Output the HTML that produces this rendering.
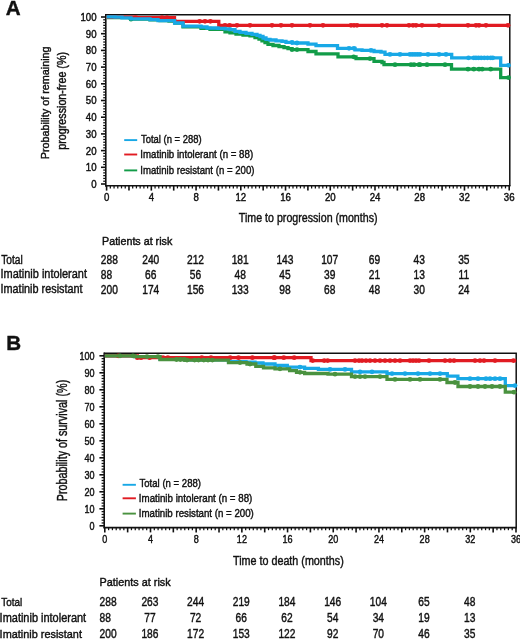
<!DOCTYPE html>
<html><head><meta charset="utf-8"><style>
html,body{margin:0;padding:0;background:#fff;}
body{width:520px;height:639px;overflow:hidden;}
svg{display:block;font-family:"Liberation Sans",sans-serif;filter:blur(0.3px);}
</style></head><body>
<svg width="520" height="639" viewBox="0 0 520 639" font-family="Liberation Sans, sans-serif">
<style>text{stroke:#111;stroke-width:0.42px;}</style>
<rect width="520" height="639" fill="#fff"/>
<line x1="101.00" y1="184.00" x2="105.80" y2="184.00" stroke="#111" stroke-width="1.6"/>
<line x1="103.20" y1="181.22" x2="105.80" y2="181.22" stroke="#111" stroke-width="1.25"/>
<line x1="103.20" y1="178.43" x2="105.80" y2="178.43" stroke="#111" stroke-width="1.25"/>
<line x1="103.20" y1="175.65" x2="105.80" y2="175.65" stroke="#111" stroke-width="1.25"/>
<line x1="103.20" y1="172.87" x2="105.80" y2="172.87" stroke="#111" stroke-width="1.25"/>
<line x1="103.20" y1="170.08" x2="105.80" y2="170.08" stroke="#111" stroke-width="1.25"/>
<line x1="101.00" y1="167.30" x2="105.80" y2="167.30" stroke="#111" stroke-width="1.6"/>
<line x1="103.20" y1="164.52" x2="105.80" y2="164.52" stroke="#111" stroke-width="1.25"/>
<line x1="103.20" y1="161.73" x2="105.80" y2="161.73" stroke="#111" stroke-width="1.25"/>
<line x1="103.20" y1="158.95" x2="105.80" y2="158.95" stroke="#111" stroke-width="1.25"/>
<line x1="103.20" y1="156.17" x2="105.80" y2="156.17" stroke="#111" stroke-width="1.25"/>
<line x1="103.20" y1="153.38" x2="105.80" y2="153.38" stroke="#111" stroke-width="1.25"/>
<line x1="101.00" y1="150.60" x2="105.80" y2="150.60" stroke="#111" stroke-width="1.6"/>
<line x1="103.20" y1="147.82" x2="105.80" y2="147.82" stroke="#111" stroke-width="1.25"/>
<line x1="103.20" y1="145.03" x2="105.80" y2="145.03" stroke="#111" stroke-width="1.25"/>
<line x1="103.20" y1="142.25" x2="105.80" y2="142.25" stroke="#111" stroke-width="1.25"/>
<line x1="103.20" y1="139.47" x2="105.80" y2="139.47" stroke="#111" stroke-width="1.25"/>
<line x1="103.20" y1="136.68" x2="105.80" y2="136.68" stroke="#111" stroke-width="1.25"/>
<line x1="101.00" y1="133.90" x2="105.80" y2="133.90" stroke="#111" stroke-width="1.6"/>
<line x1="103.20" y1="131.12" x2="105.80" y2="131.12" stroke="#111" stroke-width="1.25"/>
<line x1="103.20" y1="128.33" x2="105.80" y2="128.33" stroke="#111" stroke-width="1.25"/>
<line x1="103.20" y1="125.55" x2="105.80" y2="125.55" stroke="#111" stroke-width="1.25"/>
<line x1="103.20" y1="122.77" x2="105.80" y2="122.77" stroke="#111" stroke-width="1.25"/>
<line x1="103.20" y1="119.98" x2="105.80" y2="119.98" stroke="#111" stroke-width="1.25"/>
<line x1="101.00" y1="117.20" x2="105.80" y2="117.20" stroke="#111" stroke-width="1.6"/>
<line x1="103.20" y1="114.42" x2="105.80" y2="114.42" stroke="#111" stroke-width="1.25"/>
<line x1="103.20" y1="111.63" x2="105.80" y2="111.63" stroke="#111" stroke-width="1.25"/>
<line x1="103.20" y1="108.85" x2="105.80" y2="108.85" stroke="#111" stroke-width="1.25"/>
<line x1="103.20" y1="106.07" x2="105.80" y2="106.07" stroke="#111" stroke-width="1.25"/>
<line x1="103.20" y1="103.28" x2="105.80" y2="103.28" stroke="#111" stroke-width="1.25"/>
<line x1="101.00" y1="100.50" x2="105.80" y2="100.50" stroke="#111" stroke-width="1.6"/>
<line x1="103.20" y1="97.72" x2="105.80" y2="97.72" stroke="#111" stroke-width="1.25"/>
<line x1="103.20" y1="94.93" x2="105.80" y2="94.93" stroke="#111" stroke-width="1.25"/>
<line x1="103.20" y1="92.15" x2="105.80" y2="92.15" stroke="#111" stroke-width="1.25"/>
<line x1="103.20" y1="89.37" x2="105.80" y2="89.37" stroke="#111" stroke-width="1.25"/>
<line x1="103.20" y1="86.58" x2="105.80" y2="86.58" stroke="#111" stroke-width="1.25"/>
<line x1="101.00" y1="83.80" x2="105.80" y2="83.80" stroke="#111" stroke-width="1.6"/>
<line x1="103.20" y1="81.02" x2="105.80" y2="81.02" stroke="#111" stroke-width="1.25"/>
<line x1="103.20" y1="78.23" x2="105.80" y2="78.23" stroke="#111" stroke-width="1.25"/>
<line x1="103.20" y1="75.45" x2="105.80" y2="75.45" stroke="#111" stroke-width="1.25"/>
<line x1="103.20" y1="72.67" x2="105.80" y2="72.67" stroke="#111" stroke-width="1.25"/>
<line x1="103.20" y1="69.88" x2="105.80" y2="69.88" stroke="#111" stroke-width="1.25"/>
<line x1="101.00" y1="67.10" x2="105.80" y2="67.10" stroke="#111" stroke-width="1.6"/>
<line x1="103.20" y1="64.32" x2="105.80" y2="64.32" stroke="#111" stroke-width="1.25"/>
<line x1="103.20" y1="61.53" x2="105.80" y2="61.53" stroke="#111" stroke-width="1.25"/>
<line x1="103.20" y1="58.75" x2="105.80" y2="58.75" stroke="#111" stroke-width="1.25"/>
<line x1="103.20" y1="55.97" x2="105.80" y2="55.97" stroke="#111" stroke-width="1.25"/>
<line x1="103.20" y1="53.18" x2="105.80" y2="53.18" stroke="#111" stroke-width="1.25"/>
<line x1="101.00" y1="50.40" x2="105.80" y2="50.40" stroke="#111" stroke-width="1.6"/>
<line x1="103.20" y1="47.62" x2="105.80" y2="47.62" stroke="#111" stroke-width="1.25"/>
<line x1="103.20" y1="44.83" x2="105.80" y2="44.83" stroke="#111" stroke-width="1.25"/>
<line x1="103.20" y1="42.05" x2="105.80" y2="42.05" stroke="#111" stroke-width="1.25"/>
<line x1="103.20" y1="39.27" x2="105.80" y2="39.27" stroke="#111" stroke-width="1.25"/>
<line x1="103.20" y1="36.48" x2="105.80" y2="36.48" stroke="#111" stroke-width="1.25"/>
<line x1="101.00" y1="33.70" x2="105.80" y2="33.70" stroke="#111" stroke-width="1.6"/>
<line x1="103.20" y1="30.92" x2="105.80" y2="30.92" stroke="#111" stroke-width="1.25"/>
<line x1="103.20" y1="28.13" x2="105.80" y2="28.13" stroke="#111" stroke-width="1.25"/>
<line x1="103.20" y1="25.35" x2="105.80" y2="25.35" stroke="#111" stroke-width="1.25"/>
<line x1="103.20" y1="22.57" x2="105.80" y2="22.57" stroke="#111" stroke-width="1.25"/>
<line x1="103.20" y1="19.78" x2="105.80" y2="19.78" stroke="#111" stroke-width="1.25"/>
<line x1="101.00" y1="17.00" x2="105.80" y2="17.00" stroke="#111" stroke-width="1.6"/>
<line x1="106.60" y1="185.80" x2="106.60" y2="190.60" stroke="#111" stroke-width="1.6"/>
<line x1="110.33" y1="185.80" x2="110.33" y2="188.40" stroke="#111" stroke-width="1.25"/>
<line x1="114.06" y1="185.80" x2="114.06" y2="188.40" stroke="#111" stroke-width="1.25"/>
<line x1="117.78" y1="185.80" x2="117.78" y2="188.40" stroke="#111" stroke-width="1.25"/>
<line x1="121.51" y1="185.80" x2="121.51" y2="188.40" stroke="#111" stroke-width="1.25"/>
<line x1="125.24" y1="185.80" x2="125.24" y2="188.40" stroke="#111" stroke-width="1.25"/>
<line x1="128.97" y1="185.80" x2="128.97" y2="190.60" stroke="#111" stroke-width="1.6"/>
<line x1="132.69" y1="185.80" x2="132.69" y2="188.40" stroke="#111" stroke-width="1.25"/>
<line x1="136.42" y1="185.80" x2="136.42" y2="188.40" stroke="#111" stroke-width="1.25"/>
<line x1="140.15" y1="185.80" x2="140.15" y2="188.40" stroke="#111" stroke-width="1.25"/>
<line x1="143.88" y1="185.80" x2="143.88" y2="188.40" stroke="#111" stroke-width="1.25"/>
<line x1="147.61" y1="185.80" x2="147.61" y2="188.40" stroke="#111" stroke-width="1.25"/>
<line x1="151.33" y1="185.80" x2="151.33" y2="190.60" stroke="#111" stroke-width="1.6"/>
<line x1="155.06" y1="185.80" x2="155.06" y2="188.40" stroke="#111" stroke-width="1.25"/>
<line x1="158.79" y1="185.80" x2="158.79" y2="188.40" stroke="#111" stroke-width="1.25"/>
<line x1="162.52" y1="185.80" x2="162.52" y2="188.40" stroke="#111" stroke-width="1.25"/>
<line x1="166.24" y1="185.80" x2="166.24" y2="188.40" stroke="#111" stroke-width="1.25"/>
<line x1="169.97" y1="185.80" x2="169.97" y2="188.40" stroke="#111" stroke-width="1.25"/>
<line x1="173.70" y1="185.80" x2="173.70" y2="190.60" stroke="#111" stroke-width="1.6"/>
<line x1="177.43" y1="185.80" x2="177.43" y2="188.40" stroke="#111" stroke-width="1.25"/>
<line x1="181.16" y1="185.80" x2="181.16" y2="188.40" stroke="#111" stroke-width="1.25"/>
<line x1="184.88" y1="185.80" x2="184.88" y2="188.40" stroke="#111" stroke-width="1.25"/>
<line x1="188.61" y1="185.80" x2="188.61" y2="188.40" stroke="#111" stroke-width="1.25"/>
<line x1="192.34" y1="185.80" x2="192.34" y2="188.40" stroke="#111" stroke-width="1.25"/>
<line x1="196.07" y1="185.80" x2="196.07" y2="190.60" stroke="#111" stroke-width="1.6"/>
<line x1="199.79" y1="185.80" x2="199.79" y2="188.40" stroke="#111" stroke-width="1.25"/>
<line x1="203.52" y1="185.80" x2="203.52" y2="188.40" stroke="#111" stroke-width="1.25"/>
<line x1="207.25" y1="185.80" x2="207.25" y2="188.40" stroke="#111" stroke-width="1.25"/>
<line x1="210.98" y1="185.80" x2="210.98" y2="188.40" stroke="#111" stroke-width="1.25"/>
<line x1="214.71" y1="185.80" x2="214.71" y2="188.40" stroke="#111" stroke-width="1.25"/>
<line x1="218.43" y1="185.80" x2="218.43" y2="190.60" stroke="#111" stroke-width="1.6"/>
<line x1="222.16" y1="185.80" x2="222.16" y2="188.40" stroke="#111" stroke-width="1.25"/>
<line x1="225.89" y1="185.80" x2="225.89" y2="188.40" stroke="#111" stroke-width="1.25"/>
<line x1="229.62" y1="185.80" x2="229.62" y2="188.40" stroke="#111" stroke-width="1.25"/>
<line x1="233.34" y1="185.80" x2="233.34" y2="188.40" stroke="#111" stroke-width="1.25"/>
<line x1="237.07" y1="185.80" x2="237.07" y2="188.40" stroke="#111" stroke-width="1.25"/>
<line x1="240.80" y1="185.80" x2="240.80" y2="190.60" stroke="#111" stroke-width="1.6"/>
<line x1="244.53" y1="185.80" x2="244.53" y2="188.40" stroke="#111" stroke-width="1.25"/>
<line x1="248.26" y1="185.80" x2="248.26" y2="188.40" stroke="#111" stroke-width="1.25"/>
<line x1="251.98" y1="185.80" x2="251.98" y2="188.40" stroke="#111" stroke-width="1.25"/>
<line x1="255.71" y1="185.80" x2="255.71" y2="188.40" stroke="#111" stroke-width="1.25"/>
<line x1="259.44" y1="185.80" x2="259.44" y2="188.40" stroke="#111" stroke-width="1.25"/>
<line x1="263.17" y1="185.80" x2="263.17" y2="190.60" stroke="#111" stroke-width="1.6"/>
<line x1="266.89" y1="185.80" x2="266.89" y2="188.40" stroke="#111" stroke-width="1.25"/>
<line x1="270.62" y1="185.80" x2="270.62" y2="188.40" stroke="#111" stroke-width="1.25"/>
<line x1="274.35" y1="185.80" x2="274.35" y2="188.40" stroke="#111" stroke-width="1.25"/>
<line x1="278.08" y1="185.80" x2="278.08" y2="188.40" stroke="#111" stroke-width="1.25"/>
<line x1="281.81" y1="185.80" x2="281.81" y2="188.40" stroke="#111" stroke-width="1.25"/>
<line x1="285.53" y1="185.80" x2="285.53" y2="190.60" stroke="#111" stroke-width="1.6"/>
<line x1="289.26" y1="185.80" x2="289.26" y2="188.40" stroke="#111" stroke-width="1.25"/>
<line x1="292.99" y1="185.80" x2="292.99" y2="188.40" stroke="#111" stroke-width="1.25"/>
<line x1="296.72" y1="185.80" x2="296.72" y2="188.40" stroke="#111" stroke-width="1.25"/>
<line x1="300.44" y1="185.80" x2="300.44" y2="188.40" stroke="#111" stroke-width="1.25"/>
<line x1="304.17" y1="185.80" x2="304.17" y2="188.40" stroke="#111" stroke-width="1.25"/>
<line x1="307.90" y1="185.80" x2="307.90" y2="190.60" stroke="#111" stroke-width="1.6"/>
<line x1="311.63" y1="185.80" x2="311.63" y2="188.40" stroke="#111" stroke-width="1.25"/>
<line x1="315.36" y1="185.80" x2="315.36" y2="188.40" stroke="#111" stroke-width="1.25"/>
<line x1="319.08" y1="185.80" x2="319.08" y2="188.40" stroke="#111" stroke-width="1.25"/>
<line x1="322.81" y1="185.80" x2="322.81" y2="188.40" stroke="#111" stroke-width="1.25"/>
<line x1="326.54" y1="185.80" x2="326.54" y2="188.40" stroke="#111" stroke-width="1.25"/>
<line x1="330.27" y1="185.80" x2="330.27" y2="190.60" stroke="#111" stroke-width="1.6"/>
<line x1="333.99" y1="185.80" x2="333.99" y2="188.40" stroke="#111" stroke-width="1.25"/>
<line x1="337.72" y1="185.80" x2="337.72" y2="188.40" stroke="#111" stroke-width="1.25"/>
<line x1="341.45" y1="185.80" x2="341.45" y2="188.40" stroke="#111" stroke-width="1.25"/>
<line x1="345.18" y1="185.80" x2="345.18" y2="188.40" stroke="#111" stroke-width="1.25"/>
<line x1="348.91" y1="185.80" x2="348.91" y2="188.40" stroke="#111" stroke-width="1.25"/>
<line x1="352.63" y1="185.80" x2="352.63" y2="190.60" stroke="#111" stroke-width="1.6"/>
<line x1="356.36" y1="185.80" x2="356.36" y2="188.40" stroke="#111" stroke-width="1.25"/>
<line x1="360.09" y1="185.80" x2="360.09" y2="188.40" stroke="#111" stroke-width="1.25"/>
<line x1="363.82" y1="185.80" x2="363.82" y2="188.40" stroke="#111" stroke-width="1.25"/>
<line x1="367.54" y1="185.80" x2="367.54" y2="188.40" stroke="#111" stroke-width="1.25"/>
<line x1="371.27" y1="185.80" x2="371.27" y2="188.40" stroke="#111" stroke-width="1.25"/>
<line x1="375.00" y1="185.80" x2="375.00" y2="190.60" stroke="#111" stroke-width="1.6"/>
<line x1="378.73" y1="185.80" x2="378.73" y2="188.40" stroke="#111" stroke-width="1.25"/>
<line x1="382.46" y1="185.80" x2="382.46" y2="188.40" stroke="#111" stroke-width="1.25"/>
<line x1="386.18" y1="185.80" x2="386.18" y2="188.40" stroke="#111" stroke-width="1.25"/>
<line x1="389.91" y1="185.80" x2="389.91" y2="188.40" stroke="#111" stroke-width="1.25"/>
<line x1="393.64" y1="185.80" x2="393.64" y2="188.40" stroke="#111" stroke-width="1.25"/>
<line x1="397.37" y1="185.80" x2="397.37" y2="190.60" stroke="#111" stroke-width="1.6"/>
<line x1="401.09" y1="185.80" x2="401.09" y2="188.40" stroke="#111" stroke-width="1.25"/>
<line x1="404.82" y1="185.80" x2="404.82" y2="188.40" stroke="#111" stroke-width="1.25"/>
<line x1="408.55" y1="185.80" x2="408.55" y2="188.40" stroke="#111" stroke-width="1.25"/>
<line x1="412.28" y1="185.80" x2="412.28" y2="188.40" stroke="#111" stroke-width="1.25"/>
<line x1="416.01" y1="185.80" x2="416.01" y2="188.40" stroke="#111" stroke-width="1.25"/>
<line x1="419.73" y1="185.80" x2="419.73" y2="190.60" stroke="#111" stroke-width="1.6"/>
<line x1="423.46" y1="185.80" x2="423.46" y2="188.40" stroke="#111" stroke-width="1.25"/>
<line x1="427.19" y1="185.80" x2="427.19" y2="188.40" stroke="#111" stroke-width="1.25"/>
<line x1="430.92" y1="185.80" x2="430.92" y2="188.40" stroke="#111" stroke-width="1.25"/>
<line x1="434.64" y1="185.80" x2="434.64" y2="188.40" stroke="#111" stroke-width="1.25"/>
<line x1="438.37" y1="185.80" x2="438.37" y2="188.40" stroke="#111" stroke-width="1.25"/>
<line x1="442.10" y1="185.80" x2="442.10" y2="190.60" stroke="#111" stroke-width="1.6"/>
<line x1="445.83" y1="185.80" x2="445.83" y2="188.40" stroke="#111" stroke-width="1.25"/>
<line x1="449.56" y1="185.80" x2="449.56" y2="188.40" stroke="#111" stroke-width="1.25"/>
<line x1="453.28" y1="185.80" x2="453.28" y2="188.40" stroke="#111" stroke-width="1.25"/>
<line x1="457.01" y1="185.80" x2="457.01" y2="188.40" stroke="#111" stroke-width="1.25"/>
<line x1="460.74" y1="185.80" x2="460.74" y2="188.40" stroke="#111" stroke-width="1.25"/>
<line x1="464.47" y1="185.80" x2="464.47" y2="190.60" stroke="#111" stroke-width="1.6"/>
<line x1="468.19" y1="185.80" x2="468.19" y2="188.40" stroke="#111" stroke-width="1.25"/>
<line x1="471.92" y1="185.80" x2="471.92" y2="188.40" stroke="#111" stroke-width="1.25"/>
<line x1="475.65" y1="185.80" x2="475.65" y2="188.40" stroke="#111" stroke-width="1.25"/>
<line x1="479.38" y1="185.80" x2="479.38" y2="188.40" stroke="#111" stroke-width="1.25"/>
<line x1="483.11" y1="185.80" x2="483.11" y2="188.40" stroke="#111" stroke-width="1.25"/>
<line x1="486.83" y1="185.80" x2="486.83" y2="190.60" stroke="#111" stroke-width="1.6"/>
<line x1="490.56" y1="185.80" x2="490.56" y2="188.40" stroke="#111" stroke-width="1.25"/>
<line x1="494.29" y1="185.80" x2="494.29" y2="188.40" stroke="#111" stroke-width="1.25"/>
<line x1="498.02" y1="185.80" x2="498.02" y2="188.40" stroke="#111" stroke-width="1.25"/>
<line x1="501.74" y1="185.80" x2="501.74" y2="188.40" stroke="#111" stroke-width="1.25"/>
<line x1="505.47" y1="185.80" x2="505.47" y2="188.40" stroke="#111" stroke-width="1.25"/>
<line x1="509.20" y1="185.80" x2="509.20" y2="190.60" stroke="#111" stroke-width="1.6"/>
<line x1="105.80" y1="14.70" x2="510.50" y2="14.70" stroke="#111" stroke-width="1.5"/>
<line x1="509.80" y1="14.70" x2="509.80" y2="185.80" stroke="#111" stroke-width="1.5"/>
<line x1="105.80" y1="14.00" x2="105.80" y2="186.50" stroke="#111" stroke-width="1.6"/>
<line x1="105.10" y1="185.80" x2="510.50" y2="185.80" stroke="#111" stroke-width="1.6"/>
<text transform="translate(96.60,187.90) scale(0.9200,1)" font-size="10.50" text-anchor="end" fill="#111">0</text>
<text transform="translate(96.60,171.20) scale(0.9200,1)" font-size="10.50" text-anchor="end" fill="#111">10</text>
<text transform="translate(96.60,154.50) scale(0.9200,1)" font-size="10.50" text-anchor="end" fill="#111">20</text>
<text transform="translate(96.60,137.80) scale(0.9200,1)" font-size="10.50" text-anchor="end" fill="#111">30</text>
<text transform="translate(96.60,121.10) scale(0.9200,1)" font-size="10.50" text-anchor="end" fill="#111">40</text>
<text transform="translate(96.60,104.40) scale(0.9200,1)" font-size="10.50" text-anchor="end" fill="#111">50</text>
<text transform="translate(96.60,87.70) scale(0.9200,1)" font-size="10.50" text-anchor="end" fill="#111">60</text>
<text transform="translate(96.60,71.00) scale(0.9200,1)" font-size="10.50" text-anchor="end" fill="#111">70</text>
<text transform="translate(96.60,54.30) scale(0.9200,1)" font-size="10.50" text-anchor="end" fill="#111">80</text>
<text transform="translate(96.60,37.60) scale(0.9200,1)" font-size="10.50" text-anchor="end" fill="#111">90</text>
<text transform="translate(96.60,20.90) scale(0.9200,1)" font-size="10.50" text-anchor="end" fill="#111">100</text>
<text transform="translate(106.60,200.80) scale(0.9200,1)" font-size="10.50" text-anchor="middle" fill="#111">0</text>
<text transform="translate(151.33,200.80) scale(0.9200,1)" font-size="10.50" text-anchor="middle" fill="#111">4</text>
<text transform="translate(196.07,200.80) scale(0.9200,1)" font-size="10.50" text-anchor="middle" fill="#111">8</text>
<text transform="translate(240.80,200.80) scale(0.9200,1)" font-size="10.50" text-anchor="middle" fill="#111">12</text>
<text transform="translate(285.53,200.80) scale(0.9200,1)" font-size="10.50" text-anchor="middle" fill="#111">16</text>
<text transform="translate(330.27,200.80) scale(0.9200,1)" font-size="10.50" text-anchor="middle" fill="#111">20</text>
<text transform="translate(375.00,200.80) scale(0.9200,1)" font-size="10.50" text-anchor="middle" fill="#111">24</text>
<text transform="translate(419.73,200.80) scale(0.9200,1)" font-size="10.50" text-anchor="middle" fill="#111">28</text>
<text transform="translate(464.47,200.80) scale(0.9200,1)" font-size="10.50" text-anchor="middle" fill="#111">32</text>
<text transform="translate(509.20,200.80) scale(0.9200,1)" font-size="10.50" text-anchor="middle" fill="#111">36</text>
<path d="M106.60,17.60 H131.00 V19.20 H150.00 V19.80 H160.00 V20.50 H169.00 V21.20 H175.00 V23.20 H183.00 V26.90 H201.00 V28.30 H210.00 V29.40 H225.00 V31.80 H230.00 V32.80 H236.00 V34.00 H243.00 V35.00 H250.00 V35.90 H255.00 V37.50 H259.00 V39.20 H262.00 V40.80 H265.00 V42.50 H268.00 V44.30 H273.00 V45.50 H279.00 V46.60 H284.00 V47.60 H288.00 V48.60 H292.00 V49.60 H308.00 V51.50 H316.00 V53.90 H338.00 V56.80 H356.00 V58.60 H374.00 V61.30 H382.00 V62.50 H384.00 V64.70 H451.50 V69.20 H500.70 V77.60 H509.80" fill="none" stroke="#129c48" stroke-width="3.3" stroke-linejoin="miter" stroke-linecap="butt"/>
<circle cx="419.00" cy="64.70" r="2.4" fill="#129c48"/>
<circle cx="427.00" cy="64.70" r="2.4" fill="#129c48"/>
<circle cx="445.00" cy="64.70" r="2.4" fill="#129c48"/>
<circle cx="468.00" cy="69.20" r="2.4" fill="#129c48"/>
<circle cx="473.80" cy="69.20" r="2.4" fill="#129c48"/>
<circle cx="479.00" cy="69.20" r="2.4" fill="#129c48"/>
<circle cx="482.20" cy="69.20" r="2.4" fill="#129c48"/>
<circle cx="490.70" cy="69.20" r="2.4" fill="#129c48"/>
<circle cx="508.50" cy="77.60" r="2.4" fill="#129c48"/>
<circle cx="131.00" cy="19.20" r="2.4" fill="#129c48"/>
<circle cx="292.00" cy="49.60" r="2.4" fill="#129c48"/>
<circle cx="297.00" cy="49.60" r="2.4" fill="#129c48"/>
<circle cx="353.70" cy="56.80" r="2.4" fill="#129c48"/>
<circle cx="370.00" cy="58.60" r="2.4" fill="#129c48"/>
<circle cx="395.00" cy="64.70" r="2.4" fill="#129c48"/>
<circle cx="411.00" cy="64.70" r="2.4" fill="#129c48"/>
<circle cx="414.00" cy="64.70" r="2.4" fill="#129c48"/>
<circle cx="420.00" cy="64.70" r="2.4" fill="#129c48"/>
<path d="M106.60,17.20 H134.00 V17.60 H174.50 V21.30 H218.80 V25.30 H509.80" fill="none" stroke="#e11b22" stroke-width="3.3" stroke-linejoin="miter" stroke-linecap="butt"/>
<circle cx="136.00" cy="17.60" r="2.4" fill="#e11b22"/>
<circle cx="162.00" cy="17.60" r="2.4" fill="#e11b22"/>
<circle cx="167.00" cy="17.60" r="2.4" fill="#e11b22"/>
<circle cx="199.60" cy="21.30" r="2.4" fill="#e11b22"/>
<circle cx="205.00" cy="21.30" r="2.4" fill="#e11b22"/>
<circle cx="210.40" cy="21.30" r="2.4" fill="#e11b22"/>
<circle cx="225.00" cy="25.30" r="2.4" fill="#e11b22"/>
<circle cx="229.60" cy="25.30" r="2.4" fill="#e11b22"/>
<circle cx="237.00" cy="25.30" r="2.4" fill="#e11b22"/>
<circle cx="250.00" cy="25.30" r="2.4" fill="#e11b22"/>
<circle cx="272.00" cy="25.30" r="2.4" fill="#e11b22"/>
<circle cx="281.00" cy="25.30" r="2.4" fill="#e11b22"/>
<circle cx="292.00" cy="25.30" r="2.4" fill="#e11b22"/>
<circle cx="310.00" cy="25.30" r="2.4" fill="#e11b22"/>
<circle cx="323.00" cy="25.30" r="2.4" fill="#e11b22"/>
<circle cx="351.00" cy="25.30" r="2.4" fill="#e11b22"/>
<circle cx="354.00" cy="25.30" r="2.4" fill="#e11b22"/>
<circle cx="357.00" cy="25.30" r="2.4" fill="#e11b22"/>
<circle cx="382.00" cy="25.30" r="2.4" fill="#e11b22"/>
<circle cx="387.00" cy="25.30" r="2.4" fill="#e11b22"/>
<circle cx="409.00" cy="25.30" r="2.4" fill="#e11b22"/>
<circle cx="413.00" cy="25.30" r="2.4" fill="#e11b22"/>
<circle cx="416.00" cy="25.30" r="2.4" fill="#e11b22"/>
<circle cx="422.00" cy="25.30" r="2.4" fill="#e11b22"/>
<circle cx="439.00" cy="25.30" r="2.4" fill="#e11b22"/>
<circle cx="468.00" cy="25.30" r="2.4" fill="#e11b22"/>
<circle cx="476.00" cy="25.30" r="2.4" fill="#e11b22"/>
<circle cx="479.00" cy="25.30" r="2.4" fill="#e11b22"/>
<circle cx="486.00" cy="25.30" r="2.4" fill="#e11b22"/>
<circle cx="508.00" cy="25.30" r="2.4" fill="#e11b22"/>
<path d="M106.60,16.80 H115.00 V17.20 H122.00 V17.80 H131.00 V18.80 H150.00 V19.60 H158.00 V20.60 H174.60 V23.00 H183.00 V26.20 H201.00 V27.00 H207.00 V28.00 H218.00 V28.40 H225.00 V28.80 H230.00 V29.60 H235.00 V31.30 H240.00 V32.30 H246.00 V33.30 H252.00 V34.30 H257.00 V35.30 H260.00 V36.50 H263.00 V38.00 H266.00 V39.30 H270.00 V40.00 H276.00 V40.80 H282.00 V41.40 H286.00 V42.30 H292.50 V43.00 H308.00 V44.20 H316.00 V45.70 H337.50 V48.30 H355.00 V49.80 H362.00 V50.40 H374.00 V51.50 H381.00 V52.20 H385.00 V54.40 H451.70 V57.80 H500.70 V65.30 H509.80" fill="none" stroke="#18a8e6" stroke-width="3.3" stroke-linejoin="miter" stroke-linecap="butt"/>
<circle cx="410.00" cy="54.40" r="2.4" fill="#18a8e6"/>
<circle cx="412.50" cy="54.40" r="2.4" fill="#18a8e6"/>
<circle cx="415.00" cy="54.40" r="2.4" fill="#18a8e6"/>
<circle cx="417.50" cy="54.40" r="2.4" fill="#18a8e6"/>
<circle cx="420.00" cy="54.40" r="2.4" fill="#18a8e6"/>
<circle cx="428.00" cy="54.40" r="2.4" fill="#18a8e6"/>
<circle cx="439.00" cy="54.40" r="2.4" fill="#18a8e6"/>
<circle cx="446.00" cy="54.40" r="2.4" fill="#18a8e6"/>
<circle cx="468.50" cy="57.80" r="2.4" fill="#18a8e6"/>
<circle cx="473.80" cy="57.80" r="2.4" fill="#18a8e6"/>
<circle cx="476.00" cy="57.80" r="2.4" fill="#18a8e6"/>
<circle cx="478.50" cy="57.80" r="2.4" fill="#18a8e6"/>
<circle cx="481.20" cy="57.80" r="2.4" fill="#18a8e6"/>
<circle cx="484.30" cy="57.80" r="2.4" fill="#18a8e6"/>
<circle cx="487.50" cy="57.80" r="2.4" fill="#18a8e6"/>
<circle cx="490.70" cy="57.80" r="2.4" fill="#18a8e6"/>
<circle cx="492.80" cy="57.80" r="2.4" fill="#18a8e6"/>
<circle cx="508.50" cy="65.30" r="2.4" fill="#18a8e6"/>
<circle cx="292.00" cy="42.30" r="2.4" fill="#18a8e6"/>
<circle cx="297.00" cy="43.00" r="2.4" fill="#18a8e6"/>
<circle cx="349.00" cy="48.30" r="2.4" fill="#18a8e6"/>
<circle cx="354.00" cy="48.30" r="2.4" fill="#18a8e6"/>
<circle cx="371.00" cy="50.40" r="2.4" fill="#18a8e6"/>
<circle cx="390.00" cy="54.40" r="2.4" fill="#18a8e6"/>
<circle cx="400.00" cy="54.40" r="2.4" fill="#18a8e6"/>
<text x="5.8" y="14.7" font-size="20.6" font-weight="bold" fill="#111">A</text>
<text transform="translate(49.20,159.26) rotate(-90) scale(0.9167,1)" font-size="11.79" fill="#111">Probability of remaining</text>
<text transform="translate(65.90,149.70) rotate(-90) scale(0.8890,1)" font-size="12.07" fill="#111">progression-free (%)</text>
<line x1="124.20" y1="140.10" x2="137.20" y2="140.10" stroke="#18a8e6" stroke-width="1.9"/>
<line x1="124.20" y1="154.50" x2="137.20" y2="154.50" stroke="#e11b22" stroke-width="1.9"/>
<line x1="124.20" y1="170.40" x2="137.20" y2="170.40" stroke="#129c48" stroke-width="1.9"/>
<text transform="translate(141.01,143.20) scale(0.8726,1)" font-size="10.83" font-weight="normal" fill="#111">Total (n = 288)</text>
<text transform="translate(140.33,158.20) scale(0.8954,1)" font-size="10.83" font-weight="normal" fill="#111">Imatinib intolerant (n = 88)</text>
<text transform="translate(140.33,174.30) scale(0.8353,1)" font-size="11.52" font-weight="normal" fill="#111">Imatinib resistant (n = 200)</text>
<text transform="translate(238.84,222.40) scale(0.8350,1)" font-size="12.76" font-weight="normal" fill="#111">Time to progression (months)</text>
<text transform="translate(102.04,245.40) scale(1.0033,1)" font-size="10.69" font-weight="normal" fill="#111">Patients at risk</text>
<text transform="translate(1.20,263.60) scale(0.8100,1)" font-size="12.62" font-weight="normal" fill="#111">Total</text>
<text transform="translate(0.51,278.30) scale(0.8691,1)" font-size="12.62" font-weight="normal" fill="#111">Imatinib intolerant</text>
<text transform="translate(0.52,293.10) scale(0.8614,1)" font-size="12.62" font-weight="normal" fill="#111">Imatinib resistant</text>
<text transform="translate(100.80,264.20) scale(0.8300,1)" font-size="12.30" text-anchor="start" fill="#111">288</text>
<text transform="translate(150.73,264.20) scale(0.8300,1)" font-size="12.30" text-anchor="middle" fill="#111">240</text>
<text transform="translate(195.47,264.20) scale(0.8300,1)" font-size="12.30" text-anchor="middle" fill="#111">212</text>
<text transform="translate(240.20,264.20) scale(0.8300,1)" font-size="12.30" text-anchor="middle" fill="#111">181</text>
<text transform="translate(284.93,264.20) scale(0.8300,1)" font-size="12.30" text-anchor="middle" fill="#111">143</text>
<text transform="translate(329.67,264.20) scale(0.8300,1)" font-size="12.30" text-anchor="middle" fill="#111">107</text>
<text transform="translate(374.40,264.20) scale(0.8300,1)" font-size="12.30" text-anchor="middle" fill="#111">69</text>
<text transform="translate(419.13,264.20) scale(0.8300,1)" font-size="12.30" text-anchor="middle" fill="#111">43</text>
<text transform="translate(463.87,264.20) scale(0.8300,1)" font-size="12.30" text-anchor="middle" fill="#111">35</text>
<text transform="translate(100.80,278.80) scale(0.8300,1)" font-size="12.30" text-anchor="start" fill="#111">88</text>
<text transform="translate(150.73,278.80) scale(0.8300,1)" font-size="12.30" text-anchor="middle" fill="#111">66</text>
<text transform="translate(195.47,278.80) scale(0.8300,1)" font-size="12.30" text-anchor="middle" fill="#111">56</text>
<text transform="translate(240.20,278.80) scale(0.8300,1)" font-size="12.30" text-anchor="middle" fill="#111">48</text>
<text transform="translate(284.93,278.80) scale(0.8300,1)" font-size="12.30" text-anchor="middle" fill="#111">45</text>
<text transform="translate(329.67,278.80) scale(0.8300,1)" font-size="12.30" text-anchor="middle" fill="#111">39</text>
<text transform="translate(374.40,278.80) scale(0.8300,1)" font-size="12.30" text-anchor="middle" fill="#111">21</text>
<text transform="translate(419.13,278.80) scale(0.8300,1)" font-size="12.30" text-anchor="middle" fill="#111">13</text>
<text transform="translate(463.87,278.80) scale(0.8300,1)" font-size="12.30" text-anchor="middle" fill="#111">11</text>
<text transform="translate(100.80,293.60) scale(0.8300,1)" font-size="12.30" text-anchor="start" fill="#111">200</text>
<text transform="translate(150.73,293.60) scale(0.8300,1)" font-size="12.30" text-anchor="middle" fill="#111">174</text>
<text transform="translate(195.47,293.60) scale(0.8300,1)" font-size="12.30" text-anchor="middle" fill="#111">156</text>
<text transform="translate(240.20,293.60) scale(0.8300,1)" font-size="12.30" text-anchor="middle" fill="#111">133</text>
<text transform="translate(284.93,293.60) scale(0.8300,1)" font-size="12.30" text-anchor="middle" fill="#111">98</text>
<text transform="translate(329.67,293.60) scale(0.8300,1)" font-size="12.30" text-anchor="middle" fill="#111">68</text>
<text transform="translate(374.40,293.60) scale(0.8300,1)" font-size="12.30" text-anchor="middle" fill="#111">48</text>
<text transform="translate(419.13,293.60) scale(0.8300,1)" font-size="12.30" text-anchor="middle" fill="#111">30</text>
<text transform="translate(463.87,293.60) scale(0.8300,1)" font-size="12.30" text-anchor="middle" fill="#111">24</text>
<line x1="99.40" y1="525.80" x2="104.20" y2="525.80" stroke="#111" stroke-width="1.6"/>
<line x1="101.60" y1="522.97" x2="104.20" y2="522.97" stroke="#111" stroke-width="1.25"/>
<line x1="101.60" y1="520.13" x2="104.20" y2="520.13" stroke="#111" stroke-width="1.25"/>
<line x1="101.60" y1="517.30" x2="104.20" y2="517.30" stroke="#111" stroke-width="1.25"/>
<line x1="101.60" y1="514.47" x2="104.20" y2="514.47" stroke="#111" stroke-width="1.25"/>
<line x1="101.60" y1="511.63" x2="104.20" y2="511.63" stroke="#111" stroke-width="1.25"/>
<line x1="99.40" y1="508.80" x2="104.20" y2="508.80" stroke="#111" stroke-width="1.6"/>
<line x1="101.60" y1="505.97" x2="104.20" y2="505.97" stroke="#111" stroke-width="1.25"/>
<line x1="101.60" y1="503.13" x2="104.20" y2="503.13" stroke="#111" stroke-width="1.25"/>
<line x1="101.60" y1="500.30" x2="104.20" y2="500.30" stroke="#111" stroke-width="1.25"/>
<line x1="101.60" y1="497.47" x2="104.20" y2="497.47" stroke="#111" stroke-width="1.25"/>
<line x1="101.60" y1="494.63" x2="104.20" y2="494.63" stroke="#111" stroke-width="1.25"/>
<line x1="99.40" y1="491.80" x2="104.20" y2="491.80" stroke="#111" stroke-width="1.6"/>
<line x1="101.60" y1="488.97" x2="104.20" y2="488.97" stroke="#111" stroke-width="1.25"/>
<line x1="101.60" y1="486.13" x2="104.20" y2="486.13" stroke="#111" stroke-width="1.25"/>
<line x1="101.60" y1="483.30" x2="104.20" y2="483.30" stroke="#111" stroke-width="1.25"/>
<line x1="101.60" y1="480.47" x2="104.20" y2="480.47" stroke="#111" stroke-width="1.25"/>
<line x1="101.60" y1="477.63" x2="104.20" y2="477.63" stroke="#111" stroke-width="1.25"/>
<line x1="99.40" y1="474.80" x2="104.20" y2="474.80" stroke="#111" stroke-width="1.6"/>
<line x1="101.60" y1="471.97" x2="104.20" y2="471.97" stroke="#111" stroke-width="1.25"/>
<line x1="101.60" y1="469.13" x2="104.20" y2="469.13" stroke="#111" stroke-width="1.25"/>
<line x1="101.60" y1="466.30" x2="104.20" y2="466.30" stroke="#111" stroke-width="1.25"/>
<line x1="101.60" y1="463.47" x2="104.20" y2="463.47" stroke="#111" stroke-width="1.25"/>
<line x1="101.60" y1="460.63" x2="104.20" y2="460.63" stroke="#111" stroke-width="1.25"/>
<line x1="99.40" y1="457.80" x2="104.20" y2="457.80" stroke="#111" stroke-width="1.6"/>
<line x1="101.60" y1="454.97" x2="104.20" y2="454.97" stroke="#111" stroke-width="1.25"/>
<line x1="101.60" y1="452.13" x2="104.20" y2="452.13" stroke="#111" stroke-width="1.25"/>
<line x1="101.60" y1="449.30" x2="104.20" y2="449.30" stroke="#111" stroke-width="1.25"/>
<line x1="101.60" y1="446.47" x2="104.20" y2="446.47" stroke="#111" stroke-width="1.25"/>
<line x1="101.60" y1="443.63" x2="104.20" y2="443.63" stroke="#111" stroke-width="1.25"/>
<line x1="99.40" y1="440.80" x2="104.20" y2="440.80" stroke="#111" stroke-width="1.6"/>
<line x1="101.60" y1="437.97" x2="104.20" y2="437.97" stroke="#111" stroke-width="1.25"/>
<line x1="101.60" y1="435.13" x2="104.20" y2="435.13" stroke="#111" stroke-width="1.25"/>
<line x1="101.60" y1="432.30" x2="104.20" y2="432.30" stroke="#111" stroke-width="1.25"/>
<line x1="101.60" y1="429.47" x2="104.20" y2="429.47" stroke="#111" stroke-width="1.25"/>
<line x1="101.60" y1="426.63" x2="104.20" y2="426.63" stroke="#111" stroke-width="1.25"/>
<line x1="99.40" y1="423.80" x2="104.20" y2="423.80" stroke="#111" stroke-width="1.6"/>
<line x1="101.60" y1="420.97" x2="104.20" y2="420.97" stroke="#111" stroke-width="1.25"/>
<line x1="101.60" y1="418.13" x2="104.20" y2="418.13" stroke="#111" stroke-width="1.25"/>
<line x1="101.60" y1="415.30" x2="104.20" y2="415.30" stroke="#111" stroke-width="1.25"/>
<line x1="101.60" y1="412.47" x2="104.20" y2="412.47" stroke="#111" stroke-width="1.25"/>
<line x1="101.60" y1="409.63" x2="104.20" y2="409.63" stroke="#111" stroke-width="1.25"/>
<line x1="99.40" y1="406.80" x2="104.20" y2="406.80" stroke="#111" stroke-width="1.6"/>
<line x1="101.60" y1="403.97" x2="104.20" y2="403.97" stroke="#111" stroke-width="1.25"/>
<line x1="101.60" y1="401.13" x2="104.20" y2="401.13" stroke="#111" stroke-width="1.25"/>
<line x1="101.60" y1="398.30" x2="104.20" y2="398.30" stroke="#111" stroke-width="1.25"/>
<line x1="101.60" y1="395.47" x2="104.20" y2="395.47" stroke="#111" stroke-width="1.25"/>
<line x1="101.60" y1="392.63" x2="104.20" y2="392.63" stroke="#111" stroke-width="1.25"/>
<line x1="99.40" y1="389.80" x2="104.20" y2="389.80" stroke="#111" stroke-width="1.6"/>
<line x1="101.60" y1="386.97" x2="104.20" y2="386.97" stroke="#111" stroke-width="1.25"/>
<line x1="101.60" y1="384.13" x2="104.20" y2="384.13" stroke="#111" stroke-width="1.25"/>
<line x1="101.60" y1="381.30" x2="104.20" y2="381.30" stroke="#111" stroke-width="1.25"/>
<line x1="101.60" y1="378.47" x2="104.20" y2="378.47" stroke="#111" stroke-width="1.25"/>
<line x1="101.60" y1="375.63" x2="104.20" y2="375.63" stroke="#111" stroke-width="1.25"/>
<line x1="99.40" y1="372.80" x2="104.20" y2="372.80" stroke="#111" stroke-width="1.6"/>
<line x1="101.60" y1="369.97" x2="104.20" y2="369.97" stroke="#111" stroke-width="1.25"/>
<line x1="101.60" y1="367.13" x2="104.20" y2="367.13" stroke="#111" stroke-width="1.25"/>
<line x1="101.60" y1="364.30" x2="104.20" y2="364.30" stroke="#111" stroke-width="1.25"/>
<line x1="101.60" y1="361.47" x2="104.20" y2="361.47" stroke="#111" stroke-width="1.25"/>
<line x1="101.60" y1="358.63" x2="104.20" y2="358.63" stroke="#111" stroke-width="1.25"/>
<line x1="99.40" y1="355.80" x2="104.20" y2="355.80" stroke="#111" stroke-width="1.6"/>
<line x1="104.80" y1="527.60" x2="104.80" y2="532.40" stroke="#111" stroke-width="1.6"/>
<line x1="108.61" y1="527.60" x2="108.61" y2="530.20" stroke="#111" stroke-width="1.25"/>
<line x1="112.41" y1="527.60" x2="112.41" y2="530.20" stroke="#111" stroke-width="1.25"/>
<line x1="116.22" y1="527.60" x2="116.22" y2="530.20" stroke="#111" stroke-width="1.25"/>
<line x1="120.03" y1="527.60" x2="120.03" y2="530.20" stroke="#111" stroke-width="1.25"/>
<line x1="123.84" y1="527.60" x2="123.84" y2="530.20" stroke="#111" stroke-width="1.25"/>
<line x1="127.64" y1="527.60" x2="127.64" y2="532.40" stroke="#111" stroke-width="1.6"/>
<line x1="131.45" y1="527.60" x2="131.45" y2="530.20" stroke="#111" stroke-width="1.25"/>
<line x1="135.26" y1="527.60" x2="135.26" y2="530.20" stroke="#111" stroke-width="1.25"/>
<line x1="139.07" y1="527.60" x2="139.07" y2="530.20" stroke="#111" stroke-width="1.25"/>
<line x1="142.87" y1="527.60" x2="142.87" y2="530.20" stroke="#111" stroke-width="1.25"/>
<line x1="146.68" y1="527.60" x2="146.68" y2="530.20" stroke="#111" stroke-width="1.25"/>
<line x1="150.49" y1="527.60" x2="150.49" y2="532.40" stroke="#111" stroke-width="1.6"/>
<line x1="154.30" y1="527.60" x2="154.30" y2="530.20" stroke="#111" stroke-width="1.25"/>
<line x1="158.10" y1="527.60" x2="158.10" y2="530.20" stroke="#111" stroke-width="1.25"/>
<line x1="161.91" y1="527.60" x2="161.91" y2="530.20" stroke="#111" stroke-width="1.25"/>
<line x1="165.72" y1="527.60" x2="165.72" y2="530.20" stroke="#111" stroke-width="1.25"/>
<line x1="169.53" y1="527.60" x2="169.53" y2="530.20" stroke="#111" stroke-width="1.25"/>
<line x1="173.33" y1="527.60" x2="173.33" y2="532.40" stroke="#111" stroke-width="1.6"/>
<line x1="177.14" y1="527.60" x2="177.14" y2="530.20" stroke="#111" stroke-width="1.25"/>
<line x1="180.95" y1="527.60" x2="180.95" y2="530.20" stroke="#111" stroke-width="1.25"/>
<line x1="184.76" y1="527.60" x2="184.76" y2="530.20" stroke="#111" stroke-width="1.25"/>
<line x1="188.56" y1="527.60" x2="188.56" y2="530.20" stroke="#111" stroke-width="1.25"/>
<line x1="192.37" y1="527.60" x2="192.37" y2="530.20" stroke="#111" stroke-width="1.25"/>
<line x1="196.18" y1="527.60" x2="196.18" y2="532.40" stroke="#111" stroke-width="1.6"/>
<line x1="199.99" y1="527.60" x2="199.99" y2="530.20" stroke="#111" stroke-width="1.25"/>
<line x1="203.79" y1="527.60" x2="203.79" y2="530.20" stroke="#111" stroke-width="1.25"/>
<line x1="207.60" y1="527.60" x2="207.60" y2="530.20" stroke="#111" stroke-width="1.25"/>
<line x1="211.41" y1="527.60" x2="211.41" y2="530.20" stroke="#111" stroke-width="1.25"/>
<line x1="215.21" y1="527.60" x2="215.21" y2="530.20" stroke="#111" stroke-width="1.25"/>
<line x1="219.02" y1="527.60" x2="219.02" y2="532.40" stroke="#111" stroke-width="1.6"/>
<line x1="222.83" y1="527.60" x2="222.83" y2="530.20" stroke="#111" stroke-width="1.25"/>
<line x1="226.64" y1="527.60" x2="226.64" y2="530.20" stroke="#111" stroke-width="1.25"/>
<line x1="230.44" y1="527.60" x2="230.44" y2="530.20" stroke="#111" stroke-width="1.25"/>
<line x1="234.25" y1="527.60" x2="234.25" y2="530.20" stroke="#111" stroke-width="1.25"/>
<line x1="238.06" y1="527.60" x2="238.06" y2="530.20" stroke="#111" stroke-width="1.25"/>
<line x1="241.87" y1="527.60" x2="241.87" y2="532.40" stroke="#111" stroke-width="1.6"/>
<line x1="245.67" y1="527.60" x2="245.67" y2="530.20" stroke="#111" stroke-width="1.25"/>
<line x1="249.48" y1="527.60" x2="249.48" y2="530.20" stroke="#111" stroke-width="1.25"/>
<line x1="253.29" y1="527.60" x2="253.29" y2="530.20" stroke="#111" stroke-width="1.25"/>
<line x1="257.10" y1="527.60" x2="257.10" y2="530.20" stroke="#111" stroke-width="1.25"/>
<line x1="260.90" y1="527.60" x2="260.90" y2="530.20" stroke="#111" stroke-width="1.25"/>
<line x1="264.71" y1="527.60" x2="264.71" y2="532.40" stroke="#111" stroke-width="1.6"/>
<line x1="268.52" y1="527.60" x2="268.52" y2="530.20" stroke="#111" stroke-width="1.25"/>
<line x1="272.33" y1="527.60" x2="272.33" y2="530.20" stroke="#111" stroke-width="1.25"/>
<line x1="276.13" y1="527.60" x2="276.13" y2="530.20" stroke="#111" stroke-width="1.25"/>
<line x1="279.94" y1="527.60" x2="279.94" y2="530.20" stroke="#111" stroke-width="1.25"/>
<line x1="283.75" y1="527.60" x2="283.75" y2="530.20" stroke="#111" stroke-width="1.25"/>
<line x1="287.56" y1="527.60" x2="287.56" y2="532.40" stroke="#111" stroke-width="1.6"/>
<line x1="291.36" y1="527.60" x2="291.36" y2="530.20" stroke="#111" stroke-width="1.25"/>
<line x1="295.17" y1="527.60" x2="295.17" y2="530.20" stroke="#111" stroke-width="1.25"/>
<line x1="298.98" y1="527.60" x2="298.98" y2="530.20" stroke="#111" stroke-width="1.25"/>
<line x1="302.79" y1="527.60" x2="302.79" y2="530.20" stroke="#111" stroke-width="1.25"/>
<line x1="306.59" y1="527.60" x2="306.59" y2="530.20" stroke="#111" stroke-width="1.25"/>
<line x1="310.40" y1="527.60" x2="310.40" y2="532.40" stroke="#111" stroke-width="1.6"/>
<line x1="314.21" y1="527.60" x2="314.21" y2="530.20" stroke="#111" stroke-width="1.25"/>
<line x1="318.01" y1="527.60" x2="318.01" y2="530.20" stroke="#111" stroke-width="1.25"/>
<line x1="321.82" y1="527.60" x2="321.82" y2="530.20" stroke="#111" stroke-width="1.25"/>
<line x1="325.63" y1="527.60" x2="325.63" y2="530.20" stroke="#111" stroke-width="1.25"/>
<line x1="329.44" y1="527.60" x2="329.44" y2="530.20" stroke="#111" stroke-width="1.25"/>
<line x1="333.24" y1="527.60" x2="333.24" y2="532.40" stroke="#111" stroke-width="1.6"/>
<line x1="337.05" y1="527.60" x2="337.05" y2="530.20" stroke="#111" stroke-width="1.25"/>
<line x1="340.86" y1="527.60" x2="340.86" y2="530.20" stroke="#111" stroke-width="1.25"/>
<line x1="344.67" y1="527.60" x2="344.67" y2="530.20" stroke="#111" stroke-width="1.25"/>
<line x1="348.47" y1="527.60" x2="348.47" y2="530.20" stroke="#111" stroke-width="1.25"/>
<line x1="352.28" y1="527.60" x2="352.28" y2="530.20" stroke="#111" stroke-width="1.25"/>
<line x1="356.09" y1="527.60" x2="356.09" y2="532.40" stroke="#111" stroke-width="1.6"/>
<line x1="359.90" y1="527.60" x2="359.90" y2="530.20" stroke="#111" stroke-width="1.25"/>
<line x1="363.70" y1="527.60" x2="363.70" y2="530.20" stroke="#111" stroke-width="1.25"/>
<line x1="367.51" y1="527.60" x2="367.51" y2="530.20" stroke="#111" stroke-width="1.25"/>
<line x1="371.32" y1="527.60" x2="371.32" y2="530.20" stroke="#111" stroke-width="1.25"/>
<line x1="375.13" y1="527.60" x2="375.13" y2="530.20" stroke="#111" stroke-width="1.25"/>
<line x1="378.93" y1="527.60" x2="378.93" y2="532.40" stroke="#111" stroke-width="1.6"/>
<line x1="382.74" y1="527.60" x2="382.74" y2="530.20" stroke="#111" stroke-width="1.25"/>
<line x1="386.55" y1="527.60" x2="386.55" y2="530.20" stroke="#111" stroke-width="1.25"/>
<line x1="390.36" y1="527.60" x2="390.36" y2="530.20" stroke="#111" stroke-width="1.25"/>
<line x1="394.16" y1="527.60" x2="394.16" y2="530.20" stroke="#111" stroke-width="1.25"/>
<line x1="397.97" y1="527.60" x2="397.97" y2="530.20" stroke="#111" stroke-width="1.25"/>
<line x1="401.78" y1="527.60" x2="401.78" y2="532.40" stroke="#111" stroke-width="1.6"/>
<line x1="405.59" y1="527.60" x2="405.59" y2="530.20" stroke="#111" stroke-width="1.25"/>
<line x1="409.39" y1="527.60" x2="409.39" y2="530.20" stroke="#111" stroke-width="1.25"/>
<line x1="413.20" y1="527.60" x2="413.20" y2="530.20" stroke="#111" stroke-width="1.25"/>
<line x1="417.01" y1="527.60" x2="417.01" y2="530.20" stroke="#111" stroke-width="1.25"/>
<line x1="420.81" y1="527.60" x2="420.81" y2="530.20" stroke="#111" stroke-width="1.25"/>
<line x1="424.62" y1="527.60" x2="424.62" y2="532.40" stroke="#111" stroke-width="1.6"/>
<line x1="428.43" y1="527.60" x2="428.43" y2="530.20" stroke="#111" stroke-width="1.25"/>
<line x1="432.24" y1="527.60" x2="432.24" y2="530.20" stroke="#111" stroke-width="1.25"/>
<line x1="436.04" y1="527.60" x2="436.04" y2="530.20" stroke="#111" stroke-width="1.25"/>
<line x1="439.85" y1="527.60" x2="439.85" y2="530.20" stroke="#111" stroke-width="1.25"/>
<line x1="443.66" y1="527.60" x2="443.66" y2="530.20" stroke="#111" stroke-width="1.25"/>
<line x1="447.47" y1="527.60" x2="447.47" y2="532.40" stroke="#111" stroke-width="1.6"/>
<line x1="451.27" y1="527.60" x2="451.27" y2="530.20" stroke="#111" stroke-width="1.25"/>
<line x1="455.08" y1="527.60" x2="455.08" y2="530.20" stroke="#111" stroke-width="1.25"/>
<line x1="458.89" y1="527.60" x2="458.89" y2="530.20" stroke="#111" stroke-width="1.25"/>
<line x1="462.70" y1="527.60" x2="462.70" y2="530.20" stroke="#111" stroke-width="1.25"/>
<line x1="466.50" y1="527.60" x2="466.50" y2="530.20" stroke="#111" stroke-width="1.25"/>
<line x1="470.31" y1="527.60" x2="470.31" y2="532.40" stroke="#111" stroke-width="1.6"/>
<line x1="474.12" y1="527.60" x2="474.12" y2="530.20" stroke="#111" stroke-width="1.25"/>
<line x1="477.93" y1="527.60" x2="477.93" y2="530.20" stroke="#111" stroke-width="1.25"/>
<line x1="481.73" y1="527.60" x2="481.73" y2="530.20" stroke="#111" stroke-width="1.25"/>
<line x1="485.54" y1="527.60" x2="485.54" y2="530.20" stroke="#111" stroke-width="1.25"/>
<line x1="489.35" y1="527.60" x2="489.35" y2="530.20" stroke="#111" stroke-width="1.25"/>
<line x1="493.16" y1="527.60" x2="493.16" y2="532.40" stroke="#111" stroke-width="1.6"/>
<line x1="496.96" y1="527.60" x2="496.96" y2="530.20" stroke="#111" stroke-width="1.25"/>
<line x1="500.77" y1="527.60" x2="500.77" y2="530.20" stroke="#111" stroke-width="1.25"/>
<line x1="504.58" y1="527.60" x2="504.58" y2="530.20" stroke="#111" stroke-width="1.25"/>
<line x1="508.39" y1="527.60" x2="508.39" y2="530.20" stroke="#111" stroke-width="1.25"/>
<line x1="512.19" y1="527.60" x2="512.19" y2="530.20" stroke="#111" stroke-width="1.25"/>
<line x1="516.00" y1="527.60" x2="516.00" y2="532.40" stroke="#111" stroke-width="1.6"/>
<line x1="104.20" y1="353.30" x2="516.90" y2="353.30" stroke="#111" stroke-width="1.5"/>
<line x1="516.20" y1="353.30" x2="516.20" y2="527.60" stroke="#111" stroke-width="1.5"/>
<line x1="104.20" y1="352.60" x2="104.20" y2="528.30" stroke="#111" stroke-width="1.6"/>
<line x1="103.50" y1="527.60" x2="516.90" y2="527.60" stroke="#111" stroke-width="1.6"/>
<text transform="translate(94.60,529.70) scale(0.8700,1)" font-size="10.40" text-anchor="end" fill="#111">0</text>
<text transform="translate(94.60,512.70) scale(0.8700,1)" font-size="10.40" text-anchor="end" fill="#111">10</text>
<text transform="translate(94.60,495.70) scale(0.8700,1)" font-size="10.40" text-anchor="end" fill="#111">20</text>
<text transform="translate(94.60,478.70) scale(0.8700,1)" font-size="10.40" text-anchor="end" fill="#111">30</text>
<text transform="translate(94.60,461.70) scale(0.8700,1)" font-size="10.40" text-anchor="end" fill="#111">40</text>
<text transform="translate(94.60,444.70) scale(0.8700,1)" font-size="10.40" text-anchor="end" fill="#111">50</text>
<text transform="translate(94.60,427.70) scale(0.8700,1)" font-size="10.40" text-anchor="end" fill="#111">60</text>
<text transform="translate(94.60,410.70) scale(0.8700,1)" font-size="10.40" text-anchor="end" fill="#111">70</text>
<text transform="translate(94.60,393.70) scale(0.8700,1)" font-size="10.40" text-anchor="end" fill="#111">80</text>
<text transform="translate(94.60,376.70) scale(0.8700,1)" font-size="10.40" text-anchor="end" fill="#111">90</text>
<text transform="translate(94.60,359.70) scale(0.8700,1)" font-size="10.40" text-anchor="end" fill="#111">100</text>
<text transform="translate(104.80,542.70) scale(0.8700,1)" font-size="10.40" text-anchor="middle" fill="#111">0</text>
<text transform="translate(150.49,542.70) scale(0.8700,1)" font-size="10.40" text-anchor="middle" fill="#111">4</text>
<text transform="translate(196.18,542.70) scale(0.8700,1)" font-size="10.40" text-anchor="middle" fill="#111">8</text>
<text transform="translate(241.87,542.70) scale(0.8700,1)" font-size="10.40" text-anchor="middle" fill="#111">12</text>
<text transform="translate(287.56,542.70) scale(0.8700,1)" font-size="10.40" text-anchor="middle" fill="#111">16</text>
<text transform="translate(333.24,542.70) scale(0.8700,1)" font-size="10.40" text-anchor="middle" fill="#111">20</text>
<text transform="translate(378.93,542.70) scale(0.8700,1)" font-size="10.40" text-anchor="middle" fill="#111">24</text>
<text transform="translate(424.62,542.70) scale(0.8700,1)" font-size="10.40" text-anchor="middle" fill="#111">28</text>
<text transform="translate(470.31,542.70) scale(0.8700,1)" font-size="10.40" text-anchor="middle" fill="#111">32</text>
<text transform="translate(516.00,542.70) scale(0.8700,1)" font-size="10.40" text-anchor="middle" fill="#111">36</text>
<path d="M104.80,355.80 H135.00 V356.60 H160.00 V359.30 H185.00 V359.80 H228.50 V361.60 H246.00 V362.20 H255.00 V363.00 H263.00 V364.00 H275.00 V365.50 H287.30 V367.10 H304.60 V368.30 H318.40 V369.40 H351.50 V371.80 H387.00 V373.60 H447.30 V376.20 H457.90 V378.70 H505.30 V385.60 H516.20" fill="none" stroke="#18a8e6" stroke-width="3.3" stroke-linejoin="miter" stroke-linecap="butt"/>
<circle cx="300.00" cy="367.10" r="2.4" fill="#18a8e6"/>
<circle cx="330.00" cy="369.40" r="2.4" fill="#18a8e6"/>
<circle cx="345.00" cy="369.40" r="2.4" fill="#18a8e6"/>
<circle cx="360.00" cy="371.80" r="2.4" fill="#18a8e6"/>
<circle cx="372.00" cy="371.80" r="2.4" fill="#18a8e6"/>
<circle cx="392.00" cy="373.60" r="2.4" fill="#18a8e6"/>
<circle cx="405.00" cy="373.60" r="2.4" fill="#18a8e6"/>
<circle cx="418.00" cy="373.60" r="2.4" fill="#18a8e6"/>
<circle cx="430.00" cy="373.60" r="2.4" fill="#18a8e6"/>
<circle cx="440.00" cy="373.60" r="2.4" fill="#18a8e6"/>
<circle cx="470.00" cy="378.70" r="2.4" fill="#18a8e6"/>
<circle cx="478.00" cy="378.70" r="2.4" fill="#18a8e6"/>
<circle cx="486.00" cy="378.70" r="2.4" fill="#18a8e6"/>
<circle cx="490.00" cy="378.70" r="2.4" fill="#18a8e6"/>
<circle cx="495.00" cy="378.70" r="2.4" fill="#18a8e6"/>
<circle cx="500.00" cy="378.70" r="2.4" fill="#18a8e6"/>
<circle cx="515.00" cy="385.60" r="2.4" fill="#18a8e6"/>
<path d="M104.80,355.80 H137.40 V357.70 H311.00 V360.60 H516.20" fill="none" stroke="#e11b22" stroke-width="3.3" stroke-linejoin="miter" stroke-linecap="butt"/>
<circle cx="118.20" cy="355.80" r="2.4" fill="#e11b22"/>
<circle cx="137.40" cy="357.70" r="2.4" fill="#e11b22"/>
<circle cx="141.00" cy="357.70" r="2.4" fill="#e11b22"/>
<circle cx="149.60" cy="357.70" r="2.4" fill="#e11b22"/>
<circle cx="163.00" cy="357.70" r="2.4" fill="#e11b22"/>
<circle cx="167.90" cy="357.70" r="2.4" fill="#e11b22"/>
<circle cx="201.80" cy="357.70" r="2.4" fill="#e11b22"/>
<circle cx="211.00" cy="357.70" r="2.4" fill="#e11b22"/>
<circle cx="230.20" cy="357.70" r="2.4" fill="#e11b22"/>
<circle cx="238.50" cy="357.70" r="2.4" fill="#e11b22"/>
<circle cx="252.40" cy="357.70" r="2.4" fill="#e11b22"/>
<circle cx="274.00" cy="357.70" r="2.4" fill="#e11b22"/>
<circle cx="274.60" cy="357.70" r="2.4" fill="#e11b22"/>
<circle cx="283.80" cy="357.70" r="2.4" fill="#e11b22"/>
<circle cx="294.20" cy="357.70" r="2.4" fill="#e11b22"/>
<circle cx="312.70" cy="360.60" r="2.4" fill="#e11b22"/>
<circle cx="324.20" cy="360.60" r="2.4" fill="#e11b22"/>
<circle cx="327.70" cy="360.60" r="2.4" fill="#e11b22"/>
<circle cx="355.00" cy="360.60" r="2.4" fill="#e11b22"/>
<circle cx="359.00" cy="360.60" r="2.4" fill="#e11b22"/>
<circle cx="362.00" cy="360.60" r="2.4" fill="#e11b22"/>
<circle cx="366.00" cy="360.60" r="2.4" fill="#e11b22"/>
<circle cx="370.00" cy="360.60" r="2.4" fill="#e11b22"/>
<circle cx="375.00" cy="360.60" r="2.4" fill="#e11b22"/>
<circle cx="380.00" cy="360.60" r="2.4" fill="#e11b22"/>
<circle cx="385.00" cy="360.60" r="2.4" fill="#e11b22"/>
<circle cx="390.00" cy="360.60" r="2.4" fill="#e11b22"/>
<circle cx="395.00" cy="360.60" r="2.4" fill="#e11b22"/>
<circle cx="400.00" cy="360.60" r="2.4" fill="#e11b22"/>
<circle cx="410.00" cy="360.60" r="2.4" fill="#e11b22"/>
<circle cx="413.00" cy="360.60" r="2.4" fill="#e11b22"/>
<circle cx="416.00" cy="360.60" r="2.4" fill="#e11b22"/>
<circle cx="419.00" cy="360.60" r="2.4" fill="#e11b22"/>
<circle cx="429.00" cy="360.60" r="2.4" fill="#e11b22"/>
<circle cx="445.00" cy="360.60" r="2.4" fill="#e11b22"/>
<circle cx="450.00" cy="360.60" r="2.4" fill="#e11b22"/>
<circle cx="454.00" cy="360.60" r="2.4" fill="#e11b22"/>
<circle cx="475.00" cy="360.60" r="2.4" fill="#e11b22"/>
<circle cx="480.00" cy="360.60" r="2.4" fill="#e11b22"/>
<circle cx="484.00" cy="360.60" r="2.4" fill="#e11b22"/>
<circle cx="495.00" cy="360.60" r="2.4" fill="#e11b22"/>
<circle cx="513.50" cy="360.60" r="2.4" fill="#e11b22"/>
<path d="M104.80,355.80 H135.00 V356.60 H160.00 V359.50 H185.00 V360.10 H228.50 V362.60 H247.00 V364.00 H255.80 V366.40 H263.50 V367.90 H275.00 V368.80 H289.60 V370.60 H296.50 V372.30 H304.60 V373.50 H328.00 V374.20 H351.50 V376.60 H387.00 V379.40 H447.00 V382.50 H458.00 V386.50 H505.30 V392.20 H516.20" fill="none" stroke="#4a923f" stroke-width="3.3" stroke-linejoin="miter" stroke-linecap="butt"/>
<circle cx="120.00" cy="355.80" r="2.4" fill="#4a923f"/>
<circle cx="133.00" cy="355.80" r="2.4" fill="#4a923f"/>
<circle cx="147.00" cy="356.60" r="2.4" fill="#4a923f"/>
<circle cx="158.00" cy="356.60" r="2.4" fill="#4a923f"/>
<circle cx="176.50" cy="359.50" r="2.4" fill="#4a923f"/>
<circle cx="180.40" cy="359.50" r="2.4" fill="#4a923f"/>
<circle cx="184.20" cy="359.50" r="2.4" fill="#4a923f"/>
<circle cx="187.00" cy="360.10" r="2.4" fill="#4a923f"/>
<circle cx="194.60" cy="360.10" r="2.4" fill="#4a923f"/>
<circle cx="198.50" cy="360.10" r="2.4" fill="#4a923f"/>
<circle cx="203.80" cy="360.10" r="2.4" fill="#4a923f"/>
<circle cx="208.00" cy="360.10" r="2.4" fill="#4a923f"/>
<circle cx="212.40" cy="360.10" r="2.4" fill="#4a923f"/>
<circle cx="240.00" cy="362.60" r="2.4" fill="#4a923f"/>
<circle cx="250.00" cy="364.00" r="2.4" fill="#4a923f"/>
<circle cx="280.00" cy="368.80" r="2.4" fill="#4a923f"/>
<circle cx="300.00" cy="372.30" r="2.4" fill="#4a923f"/>
<circle cx="335.00" cy="374.20" r="2.4" fill="#4a923f"/>
<circle cx="355.00" cy="376.60" r="2.4" fill="#4a923f"/>
<circle cx="360.00" cy="376.60" r="2.4" fill="#4a923f"/>
<circle cx="365.00" cy="376.60" r="2.4" fill="#4a923f"/>
<circle cx="380.00" cy="376.60" r="2.4" fill="#4a923f"/>
<circle cx="395.00" cy="379.40" r="2.4" fill="#4a923f"/>
<circle cx="410.00" cy="379.40" r="2.4" fill="#4a923f"/>
<circle cx="420.00" cy="379.40" r="2.4" fill="#4a923f"/>
<circle cx="440.00" cy="379.40" r="2.4" fill="#4a923f"/>
<circle cx="455.00" cy="382.50" r="2.4" fill="#4a923f"/>
<circle cx="470.00" cy="386.50" r="2.4" fill="#4a923f"/>
<circle cx="478.00" cy="386.50" r="2.4" fill="#4a923f"/>
<circle cx="485.00" cy="386.50" r="2.4" fill="#4a923f"/>
<circle cx="492.00" cy="386.50" r="2.4" fill="#4a923f"/>
<circle cx="500.00" cy="386.50" r="2.4" fill="#4a923f"/>
<circle cx="514.00" cy="392.20" r="2.4" fill="#4a923f"/>
<text x="6.2" y="350.4" font-size="20.6" font-weight="bold" fill="#111">B</text>
<text transform="translate(67.10,501.26) rotate(-90) scale(0.7855,1)" font-size="13.72" fill="#111">Probability of survival (%)</text>
<line x1="122.60" y1="484.80" x2="135.90" y2="484.80" stroke="#18a8e6" stroke-width="1.9"/>
<line x1="122.60" y1="498.30" x2="135.90" y2="498.30" stroke="#e11b22" stroke-width="1.9"/>
<line x1="122.60" y1="513.60" x2="135.90" y2="513.60" stroke="#4a923f" stroke-width="1.9"/>
<text transform="translate(139.51,487.20) scale(0.8842,1)" font-size="10.83" font-weight="normal" fill="#111">Total (n = 288)</text>
<text transform="translate(138.82,501.60) scale(0.9011,1)" font-size="10.83" font-weight="normal" fill="#111">Imatinib intolerant (n = 88)</text>
<text transform="translate(138.83,516.60) scale(0.8956,1)" font-size="10.83" font-weight="normal" fill="#111">Imatinib resistant (n = 200)</text>
<text transform="translate(232.98,564.50) scale(0.8528,1)" font-size="12.62" font-weight="normal" fill="#111">Time to death (months)</text>
<text transform="translate(99.53,586.40) scale(0.9534,1)" font-size="11.38" font-weight="normal" fill="#111">Patients at risk</text>
<text transform="translate(1.20,605.80) scale(0.8516,1)" font-size="11.66" font-weight="normal" fill="#111">Total</text>
<text transform="translate(-0.39,621.90) scale(0.9099,1)" font-size="12.07" font-weight="normal" fill="#111">Imatinib intolerant</text>
<text transform="translate(-0.38,638.10) scale(0.9241,1)" font-size="11.79" font-weight="normal" fill="#111">Imatinib resistant</text>
<text transform="translate(99.60,605.80) scale(0.8300,1)" font-size="12.30" text-anchor="start" fill="#111">288</text>
<text transform="translate(149.89,605.80) scale(0.8300,1)" font-size="12.30" text-anchor="middle" fill="#111">263</text>
<text transform="translate(195.58,605.80) scale(0.8300,1)" font-size="12.30" text-anchor="middle" fill="#111">244</text>
<text transform="translate(241.27,605.80) scale(0.8300,1)" font-size="12.30" text-anchor="middle" fill="#111">219</text>
<text transform="translate(286.96,605.80) scale(0.8300,1)" font-size="12.30" text-anchor="middle" fill="#111">184</text>
<text transform="translate(332.64,605.80) scale(0.8300,1)" font-size="12.30" text-anchor="middle" fill="#111">146</text>
<text transform="translate(378.33,605.80) scale(0.8300,1)" font-size="12.30" text-anchor="middle" fill="#111">104</text>
<text transform="translate(424.02,605.80) scale(0.8300,1)" font-size="12.30" text-anchor="middle" fill="#111">65</text>
<text transform="translate(469.71,605.80) scale(0.8300,1)" font-size="12.30" text-anchor="middle" fill="#111">48</text>
<text transform="translate(99.60,621.80) scale(0.8300,1)" font-size="12.30" text-anchor="start" fill="#111">88</text>
<text transform="translate(149.89,621.80) scale(0.8300,1)" font-size="12.30" text-anchor="middle" fill="#111">77</text>
<text transform="translate(195.58,621.80) scale(0.8300,1)" font-size="12.30" text-anchor="middle" fill="#111">72</text>
<text transform="translate(241.27,621.80) scale(0.8300,1)" font-size="12.30" text-anchor="middle" fill="#111">66</text>
<text transform="translate(286.96,621.80) scale(0.8300,1)" font-size="12.30" text-anchor="middle" fill="#111">62</text>
<text transform="translate(332.64,621.80) scale(0.8300,1)" font-size="12.30" text-anchor="middle" fill="#111">54</text>
<text transform="translate(378.33,621.80) scale(0.8300,1)" font-size="12.30" text-anchor="middle" fill="#111">34</text>
<text transform="translate(424.02,621.80) scale(0.8300,1)" font-size="12.30" text-anchor="middle" fill="#111">19</text>
<text transform="translate(469.71,621.80) scale(0.8300,1)" font-size="12.30" text-anchor="middle" fill="#111">13</text>
<text transform="translate(99.60,637.90) scale(0.8300,1)" font-size="12.30" text-anchor="start" fill="#111">200</text>
<text transform="translate(149.89,637.90) scale(0.8300,1)" font-size="12.30" text-anchor="middle" fill="#111">186</text>
<text transform="translate(195.58,637.90) scale(0.8300,1)" font-size="12.30" text-anchor="middle" fill="#111">172</text>
<text transform="translate(241.27,637.90) scale(0.8300,1)" font-size="12.30" text-anchor="middle" fill="#111">153</text>
<text transform="translate(286.96,637.90) scale(0.8300,1)" font-size="12.30" text-anchor="middle" fill="#111">122</text>
<text transform="translate(332.64,637.90) scale(0.8300,1)" font-size="12.30" text-anchor="middle" fill="#111">92</text>
<text transform="translate(378.33,637.90) scale(0.8300,1)" font-size="12.30" text-anchor="middle" fill="#111">70</text>
<text transform="translate(424.02,637.90) scale(0.8300,1)" font-size="12.30" text-anchor="middle" fill="#111">46</text>
<text transform="translate(469.71,637.90) scale(0.8300,1)" font-size="12.30" text-anchor="middle" fill="#111">35</text>
</svg>
</body></html>
